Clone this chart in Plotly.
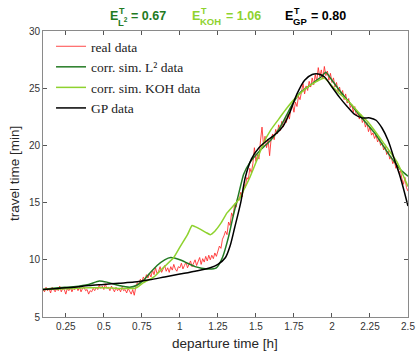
import numpy as np
import plotly.graph_objects as go

# ---------------- data ----------------
real_t = np.round(np.arange(0.10, 2.5001, 0.01), 2)
real_y = [
    7.4, 7.2, 7.6, 7.3, 7.5, 7.1, 7.6, 7.4, 7.2, 7.5,
    7.3, 7.7, 7.2, 7.5, 7.4, 7.0, 7.5, 7.3, 7.6, 7.2,
    7.5, 7.4, 7.7, 7.3, 7.6, 7.2, 7.5, 7.6, 7.3, 7.4,
    7.0, 7.3, 7.2, 7.5, 7.3, 7.6, 7.4, 7.8, 7.5, 7.7,
    7.4, 7.9, 7.5, 7.6, 7.3, 7.7, 7.4, 7.2, 7.6, 7.3,
    7.5, 7.2, 7.6, 7.3, 7.4, 7.1, 7.5, 7.2, 7.0, 7.4,
    6.9, 7.6, 8.0, 7.8, 8.3, 8.1, 8.5, 8.2, 8.7, 8.4,
    8.8, 8.5, 9.1, 8.7, 9.3, 8.8, 9.0, 9.4, 8.9, 9.2,
    9.5, 9.0, 9.3, 8.9, 9.4, 9.1, 9.6, 9.2, 9.0, 9.4,
    9.3, 9.7, 9.2, 9.5, 9.8, 9.3, 9.6, 9.9, 9.4, 9.7,
    10.0, 9.5, 9.9, 10.2, 9.6, 10.1, 9.8, 10.3, 9.9, 10.4,
    10.0, 10.4, 10.1, 10.6, 10.3, 10.9, 11.2, 11.0, 11.8, 12.1,
    12.5, 12.2, 13.3, 13.0, 14.1, 13.8, 14.9, 14.6, 15.4, 15.2,
    15.9, 15.5, 16.6, 16.3, 17.2, 17.0, 18.0, 17.6, 18.4, 19.8,
    18.6, 19.2, 18.8, 20.4, 21.6, 20.0, 20.8, 19.8, 20.5, 19.1,
    20.6, 21.0, 20.5, 21.4, 21.0, 21.8, 21.3, 22.1, 21.6, 22.4,
    22.0, 22.8, 22.3, 23.2, 23.6, 22.9, 23.8, 23.4, 24.3, 24.0,
    24.6, 25.4, 24.5, 25.2, 24.8, 25.6, 25.1, 25.9, 25.3, 26.2,
    25.6, 26.8, 26.0, 26.6, 25.8, 26.9, 26.1, 26.5, 25.7, 26.3,
    25.5, 25.9, 25.1, 25.5, 24.7, 25.1, 24.4, 24.8, 24.0, 24.5,
    23.7, 24.1, 23.3, 23.6, 22.9, 23.4, 22.6, 22.9, 22.3, 22.7,
    22.0, 22.3, 21.6, 22.0, 21.2, 21.6, 20.9, 21.1, 20.6, 20.9,
    20.3, 20.6, 20.0, 20.2, 19.6, 19.9, 19.2, 19.5, 18.8, 19.0,
    18.4, 18.7, 18.0, 18.3, 17.6, 17.8, 17.1, 16.6, 17.2, 16.3,
    16.0,
]

l2_t = [0.1, 0.2, 0.3, 0.4, 0.47, 0.52, 0.6, 0.67, 0.72, 0.76, 0.8, 0.85, 0.9, 0.94,
        1.0, 1.05, 1.1, 1.18, 1.24, 1.28, 1.32, 1.35, 1.38, 1.42, 1.46, 1.53, 1.6,
        1.66, 1.7, 1.74, 1.79, 1.84, 1.88, 1.93, 1.96, 2.0, 2.05, 2.1, 2.19, 2.28,
        2.37, 2.45, 2.5]
l2_y = [7.4, 7.55, 7.65, 7.85, 8.15, 8.05, 7.75, 7.6, 7.8, 8.2, 8.8, 9.5, 10.0, 10.2,
        10.0, 9.7, 9.4, 9.2, 9.3, 10.2, 12.0, 13.8, 15.4, 17.5, 18.5, 19.6, 20.5,
        21.6, 22.6, 23.6, 24.6, 25.1, 25.5, 26.0, 26.4, 25.7, 24.8, 24.0, 22.5, 21.1,
        19.3, 17.9, 17.3]

koh_t = [0.1, 0.2, 0.3, 0.4, 0.5, 0.6, 0.7, 0.72, 0.76, 0.83, 0.89, 0.96, 1.0, 1.05,
         1.08, 1.1, 1.13, 1.17, 1.2, 1.23, 1.27, 1.31, 1.35, 1.39, 1.42, 1.46, 1.5,
         1.55, 1.6, 1.65, 1.7, 1.75, 1.84, 1.9, 1.95, 2.0, 2.06, 2.12, 2.18, 2.24,
         2.34, 2.43, 2.5]
koh_y = [7.4, 7.45, 7.5, 7.55, 7.55, 7.5, 7.5, 7.6, 8.0, 8.5, 9.3, 10.2, 11.1, 12.2,
         13.0, 12.9, 12.7, 12.4, 12.2, 12.5, 13.2, 14.1, 14.7, 15.3, 16.1, 17.2, 18.5,
         20.2, 21.4, 22.3, 23.2, 24.0, 25.1, 25.6, 25.9, 25.2, 24.4, 23.7, 22.8, 22.0,
         20.2, 18.5, 16.4]

gp_t = [0.1, 0.2, 0.3, 0.4, 0.5, 0.6, 0.7, 0.8, 0.9, 1.0, 1.1, 1.2, 1.25, 1.3, 1.33,
        1.36, 1.4, 1.43, 1.47, 1.52, 1.58, 1.64, 1.68, 1.72, 1.77, 1.82, 1.87, 1.91,
        1.95, 2.0, 2.05, 2.1, 2.15, 2.2, 2.25, 2.29, 2.33, 2.37, 2.41, 2.45, 2.5]
gp_y = [7.4, 7.5, 7.6, 7.75, 7.85, 7.95, 8.05, 8.25, 8.5, 8.75, 9.0, 9.3, 9.6, 10.2, 11.2,
        12.8, 15.0, 17.2, 18.8, 19.8, 20.5, 21.1, 21.7, 22.8, 24.5, 25.7, 26.2, 26.25,
        26.0, 25.1, 24.2, 23.4, 22.7, 22.4, 22.4, 22.2, 21.5, 20.4, 18.8, 17.2, 14.7]

x_ticks = [0.25, 0.5, 0.75, 1, 1.25, 1.5, 1.75, 2, 2.25, 2.5]
x_tick_text = ["0.25", "0.5", "0.75", "1", "1.25", "1.5", "1.75", "2", "2.25", "2.5"]
y_ticks = [5, 10, 15, 20, 25, 30]

# ---------------- figure ----------------
C_RED = "rgba(255,40,40,0.85)"
C_DG = "#237a23"
C_LG = "#8ed22e"
C_K = "#000000"

fig = go.Figure()
fig.add_trace(go.Scatter(x=real_t, y=real_y, mode="lines", name="real data",
                         line=dict(color=C_RED, width=1)))
fig.add_trace(go.Scatter(x=l2_t, y=l2_y, mode="lines", name="corr. sim. L² data",
                         line=dict(color=C_DG, width=1.5, shape="spline", smoothing=0.5)))
fig.add_trace(go.Scatter(x=koh_t, y=koh_y, mode="lines", name="corr. sim. KOH data",
                         line=dict(color=C_LG, width=1.5, shape="spline", smoothing=0.4)))
fig.add_trace(go.Scatter(x=gp_t, y=gp_y, mode="lines", name="GP data",
                         line=dict(color=C_K, width=1.5, shape="spline", smoothing=0.8)))

W, H = 418, 356
L, R, T, B = 43, 10, 31, 39
PW, PH = W - L - R, H - T - B


def px(xp):
    return (xp - L) / PW


def py(yp):
    return (H - B - yp) / PH


ann = []
FONT = "Liberation Sans, Arial, sans-serif"


def add_piece(text, x, y, size, color):
    ann.append(dict(text=text, x=px(x), y=py(y), xref="paper", yref="paper",
                    xanchor="left", yanchor="middle", showarrow=False,
                    font=dict(family=FONT, size=size, color=color)))


for (x0, sub, col) in [(108, "L<sup>2</sup>", C_DG), (190, "KOH", C_LG), (283, "GP", C_K)]:
    add_piece("<b>E</b>", x0, 15.5, 12.5, col)
    add_piece("<b>T</b>", x0 + 8.5, 11, 9, col)
    add_piece("<b>" + sub + "</b>", x0 + 8, 21.5, 9.5, col)
for x0, val, col in [(130, "= 0.67", C_DG), (225, "= 1.06", C_LG), (310, "= 0.80", C_K)]:
    add_piece("<b>" + val + "</b>", x0 - 1, 15.5, 12.5, col)

# axis titles as annotations at fixed pixel places
ann.append(dict(text="departure time [h]", x=px(225), y=py(343), xref="paper", yref="paper",
                xanchor="center", yanchor="middle", showarrow=False,
                font=dict(family=FONT, size=13.5, color="#262626")))
ann.append(dict(text="travel time [min]", x=px(14), y=py(174), xref="paper", yref="paper",
                xanchor="center", yanchor="middle", showarrow=False, textangle=-90,
                font=dict(family=FONT, size=13.5, color="#262626")))

axis_common = dict(showline=True, linecolor="#8a8a8a", linewidth=1, mirror="ticks",
                   ticks="inside", ticklen=4, tickcolor="#555555", showgrid=False,
                   zeroline=False, automargin=False,
                   tickfont=dict(family=FONT, size=10, color="#333333"))

fig.update_layout(
    width=W, height=H,
    margin=dict(l=L, r=R, t=T, b=B),
    plot_bgcolor="white", paper_bgcolor="white",
    xaxis=dict(range=[0.1, 2.5], tickvals=x_ticks, ticktext=x_tick_text, **axis_common),
    yaxis=dict(range=[5, 30], tickvals=y_ticks, **axis_common),
    legend=dict(x=0.022, y=1.0, xanchor="left", yanchor="top",
                bgcolor="rgba(0,0,0,0)", borderwidth=0,
                font=dict(family="Liberation Serif, Times New Roman, serif", size=13.5,
                          color="#222222"),
                tracegroupgap=0, itemwidth=30),
    annotations=ann,
    showlegend=True,
)

fig.write_html("out.html", config={"displayModeBar": False},
               post_script="document.body.style.margin='0';document.body.style.padding='0';")
